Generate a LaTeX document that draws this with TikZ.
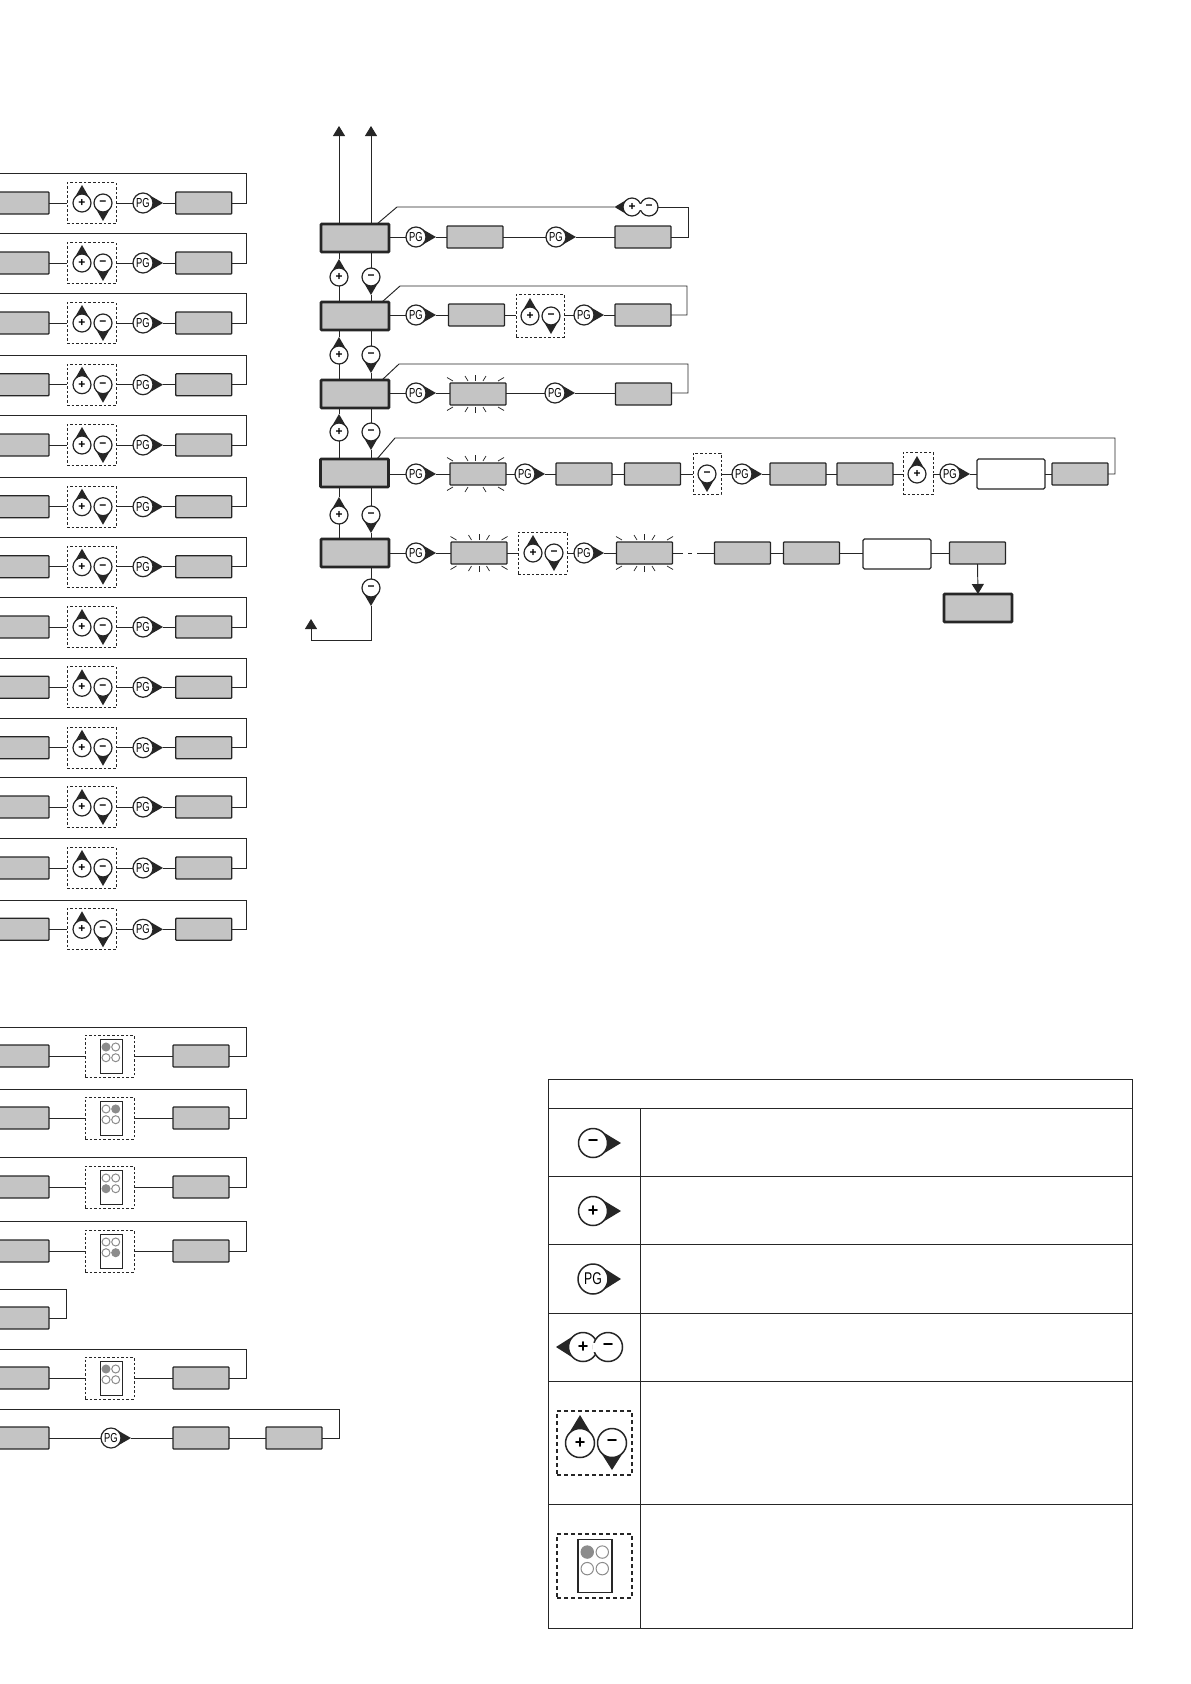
\documentclass[tikz,border=0pt]{standalone}
\usepackage{fontspec}
\setmainfont{Liberation Sans}
\usetikzlibrary{calc,arrows.meta}
\definecolor{ink}{HTML}{262626}
\definecolor{boxg}{HTML}{C4C4C4}
\definecolor{keyg}{HTML}{8C8C8C}
\tikzset{
  conn/.style={draw=ink,line width=0.95pt},
  arr/.style={conn,-{Triangle[width=12pt,length=10pt]}},
  graybox/.style={draw=ink,fill=boxg,line width=1.3pt,rounded corners=0.8pt,inner sep=0pt,outer sep=0pt,minimum width=56pt,minimum height=22pt},
  thickbox/.style={graybox,line width=2.6pt,minimum width=68pt,minimum height=28pt},
  whitebox/.style={draw=ink,fill=white,line width=1.2pt,rounded corners=1.5pt,inner sep=0pt,outer sep=0pt,minimum width=68pt,minimum height=30pt},
  dashbox/.style={draw=ink,line width=1pt,dash pattern=on 2.6pt off 2pt,inner sep=0pt,outer sep=0pt},
  dashboxL/.style={draw=ink,line width=1.3pt,dash pattern=on 4pt off 3pt,inner sep=0pt,outer sep=0pt},
  roundkey/.style={circle,draw=ink,fill=white,line width=1.2pt,inner sep=0pt,outer sep=0pt},
  fontS/.style={font=\fontsize{12}{12}\selectfont\bfseries},
  fontP/.style={font=\fontsize{13}{13}\selectfont},
  fontL/.style={line width=1.5pt,font=\fontsize{18}{18}\selectfont\bfseries},
  fontQ/.style={line width=1.5pt,font=\fontsize{17}{17}\selectfont},
  frame/.style={draw=ink,line width=0.85pt},
}
\newcommand\PGt{\scalebox{.72}[1]{PG}}
% name, x, y, angle, radius, tip distance, style, text
\newcommand\keybtn[8]{%
  \coordinate (#1-t) at ($(#2,#3)+(#4:#6)$);
  \fill[ink] (#1-t) -- ($(#2,#3)+(#4+60:#5)$) -- ($(#2,#3)+(#4-60:#5)$) -- cycle;
  \node[roundkey,#7,minimum size=#5*2pt] (#1) at (#2,#3) {#8};
}
\newcommand\smallkey[5]{\keybtn{#1}{#2}{#3}{#4}{9}{18}{fontS}{#5}}
\newcommand\pgkey[3]{\keybtn{#1}{#2}{#3}{0}{10}{20}{fontP}{\PGt}}
% name, keypad centre x, y, scale, lit key
\newcommand\keypad[5]{%
  \node[draw=ink,fill=white,line width=#4*1pt,inner sep=0pt,outer sep=0pt,minimum width=#4*22pt,minimum height=#4*34pt] (#1) at (#2,#3) {};
  \begin{scope}[shift={(#2,#3)},scale=#4]
    \foreach \kn/\kx/\ky in {1/-5/-9,2/4.7/-9,3/-5/1.7,4/4.7/1.7}{
      \ifnum\kn=#5\relax
        \draw[keyg,fill=keyg,line width=1pt] (\kx,\ky) circle (4);
      \else
        \draw[keyg,fill=white,line width=1pt] (\kx,\ky) circle (4);
      \fi
    }
  \end{scope}
}
% node, ray centre shift, bottom middle ray (1/0)
\newcommand\flash[3]{%
  \begin{scope}[shift={($(#1.center)+(#2,0)$)}]
    \foreach \ra/\rb/\rc/\rd in {-28.5/-16.5/-22.5/-13,-10.5/-18/-7.5/-13,10.5/-18/7.5/-13,28.5/-16.5/22.5/-13}{
      \draw[ink,line width=0.75pt] (\ra,\rb) -- (\rc,\rd);
      \draw[ink,line width=0.75pt] (\ra,-\rb) -- (\rc,-\rd);
    }
    \draw[ink,line width=0.75pt] (0,-19) -- (0,-13);
    \ifnum#3=1\relax \draw[ink,line width=0.75pt] (0,19) -- (0,13); \fi
  \end{scope}
}
\begin{document}
\begin{tikzpicture}[x=1pt,y=-1pt]
\useasboundingbox (0,0) rectangle (1191,1684);
\clip (0,0) rectangle (1191,1684);

%% ---- left column, upper rows
\foreach \i/\yy in {1/203,2/263,3/323,4/384.7,5/445,6/506.7,7/566.7,8/627,9/687.3,10/747.7,11/807,12/868,13/929.3}{
  \node[graybox] (la\i) at (21,\yy) {};
  \node[dashbox,minimum width=49pt,minimum height=41pt] (ld\i) at (91.5,\yy) {};
  \smallkey{lp\i}{82}{\yy}{270}{+}
  \smallkey{lm\i}{103}{\yy}{90}{−}
  \pgkey{lg\i}{143}{\yy}
  \node[graybox] (lb\i) at (203.8,\yy) {};
  \coordinate (lc\i) at (246.7,\yy);
  \coordinate (le\i) at (-2,\yy-29.3);
  \draw[conn] (la\i.east) -- (ld\i.west);
  \draw[conn] (ld\i.east) -- (lg\i.west);
  \draw[conn] (lg\i-t) -- (lb\i.west);
  \draw[conn] (lb\i.east) -- (lc\i) -- (lc\i |- le\i) -- (le\i);
}

%% ---- left column, keypad rows
\foreach \i/\yy/\tp/\lit in {1/1056/1027/1,2/1118/1089/2,3/1187/1157/3,4/1251/1221/4,6/1378/1349/1}{
  \node[graybox] (ka\i) at (21,\yy) {};
  \node[dashbox,minimum width=49pt,minimum height=42pt] (kd\i) at (109.5,\yy) {};
  \keypad{kk\i}{111}{\yy}{1}{\lit}
  \node[graybox] (kb\i) at (201,\yy) {};
  \coordinate (kc\i) at (246,\yy);
  \coordinate (ke\i) at (-2,\tp);
  \draw[conn] (ka\i.east) -- (kd\i.west);
  \draw[conn] (kd\i.east) -- (kb\i.west);
  \draw[conn] (kb\i.east) -- (kc\i) -- (kc\i |- ke\i) -- (ke\i);
}
\node[graybox] (sa) at (21,1318) {};
\coordinate (sc) at (66,1318);
\coordinate (se) at (-2,1289);
\draw[conn] (sa.east) -- (sc) -- (sc |- se) -- (se);

\node[graybox] (wa) at (21,1438) {};
\pgkey{wg}{111}{1438}
\node[graybox] (wb) at (201,1438) {};
\node[graybox] (wc) at (294,1438) {};
\coordinate (wd) at (339,1438);
\coordinate (we) at (-2,1409);
\draw[conn] (wa.east) -- (wg.west);
\draw[conn] (wg-t) -- (wb.west);
\draw[conn] (wb.east) -- (wc.west);
\draw[conn] (wc.east) -- (wd) -- (wd |- we) -- (we);

%% ---- main column: state boxes
\node[thickbox] (t1) at (355,238) {};
\node[thickbox] (t2) at (355,316) {};
\node[thickbox] (t3) at (355,394) {};
\node[thickbox] (t4) at (354.5,473) {};
\node[thickbox] (t5) at (355,553) {};
\node[thickbox] (t6) at (978,608) {};

\coordinate (up1) at (339,126);
\coordinate (up2) at (371,126);
\draw[arr] (up1 |- t1.north) -- (up1);
\draw[arr] (up2 |- t1.north) -- (up2);

\foreach \j/\sa/\sb/\yy in {1/t1/t2/277,2/t2/t3/355,3/t3/t4/432,4/t4/t5/515}{
  \smallkey{vp\j}{339}{\yy}{270}{+}
  \smallkey{vm\j}{371}{\yy}{90}{−}
  \draw[conn] (vp\j.south) -- (vp\j.south |- \sb.north);
  \draw[conn] (vp\j-t) -- (vp\j-t |- \sa.south);
  \draw[conn] (vm\j.north) -- (vm\j.north |- \sa.south);
  \draw[conn] (vm\j-t) -- (vm\j-t |- \sb.north);
}

%% row 1
\pgkey{a1}{416}{237}
\node[graybox] (a2) at (475,237) {};
\pgkey{a3}{556}{237}
\node[graybox] (a4) at (643,237) {};
\keybtn{a5}{632}{207}{180}{9}{17.5}{fontS}{+}
\node[roundkey,fontS,minimum size=18pt] (a6) at (649,207) {−};
\fill[white] (638.5,204) rectangle (642.5,210);
\coordinate (a7) at (397,207);
\coordinate (a8) at (688,207);
\coordinate (a9) at (688,237);
\draw[conn] (t1.east |- a1) -- (a1.west);
\draw[conn] (a1-t) -- (a2.west);
\draw[conn] (a2.east) -- (a3.west);
\draw[conn] (a3-t) -- (a4.west);
\draw[conn] (a4.east) -- (a9) -- (a8) -- (a6.east);
\draw[conn] (a5-t) -- (a7) -- ($(t1.north)+(22,0)$);

%% row 2
\pgkey{b1}{416}{315}
\node[graybox] (b2) at (476.5,315) {};
\node[dashbox,minimum width=48pt,minimum height=43pt] (b3) at (540,315.5) {};
\smallkey{b4}{530}{316}{270}{+}
\smallkey{b5}{551}{316}{90}{−}
\pgkey{b6}{584}{315}
\node[graybox] (b7) at (643,315) {};
\coordinate (b8) at (400,286);
\coordinate (b9) at (687,286);
\coordinate (b10) at (687,315);
\draw[conn] (t2.east |- b1) -- (b1.west);
\draw[conn] (b1-t) -- (b2.west);
\draw[conn] (b2.east) -- (b3.west |- b2);
\draw[conn] (b3.east |- b6) -- (b6.west);
\draw[conn] (b6-t) -- (b7.west);
\draw[conn] (b7.east) -- (b10) -- (b9) -- (b8) -- ($(t2.north)+(27,0)$);

%% row 3
\pgkey{c1}{416}{393}
\node[graybox] (c2) at (478,394) {};
\flash{c2}{-2.5}{1}
\pgkey{c3}{555}{393}
\node[graybox] (c4) at (643.5,394) {};
\coordinate (c5) at (399,364);
\coordinate (c6) at (688,364);
\coordinate (c7) at (688,393);
\draw[conn] (t3.east |- c1) -- (c1.west);
\draw[conn] (c1-t) -- (c2.west |- c1);
\draw[conn] (c2.east |- c3) -- (c3.west);
\draw[conn] (c3-t) -- (c4.west |- c3);
\draw[conn] (c4.east |- c7) -- (c7) -- (c6) -- (c5) -- ($(t3.north)+(27,0)$);

%% row 4
\pgkey{d1}{416}{474}
\node[graybox] (d2) at (478,474) {};
\flash{d2}{-2.5}{0}
\pgkey{d3}{525}{474}
\node[graybox] (d4) at (584,474) {};
\node[graybox] (d5) at (652.5,474) {};
\node[dashbox,minimum width=28pt,minimum height=41pt] (d6) at (707,473.5) {};
\smallkey{d7}{707}{474}{90}{−}
\pgkey{d8}{742}{474}
\node[graybox] (d9) at (798,474) {};
\node[graybox] (d10) at (865,474) {};
\node[dashbox,minimum width=30pt,minimum height=42pt] (d11) at (918,473) {};
\smallkey{d12}{917}{474}{270}{+}
\pgkey{d13}{950}{474}
\node[whitebox] (d14) at (1011,474) {};
\node[graybox] (d15) at (1080,474) {};
\coordinate (d16) at (1115,474);
\coordinate (d17) at (1115,438);
\coordinate (d18) at (395,438);
\draw[conn] (t4.east |- d1) -- (d1.west);
\draw[conn] (d1-t) -- (d2.west);
\draw[conn] (d2.east) -- (d3.west);
\draw[conn] (d3-t) -- (d4.west);
\draw[conn] (d4.east) -- (d5.west);
\draw[conn] (d5.east) -- (d6.west |- d5);
\draw[conn] (d6.east |- d8) -- (d8.west);
\draw[conn] (d8-t) -- (d9.west);
\draw[conn] (d9.east) -- (d10.west);
\draw[conn] (d10.east) -- (d11.west |- d10);
\draw[conn] (d11.east |- d13) -- (d13.west);
\draw[conn] (d13-t) -- (d14.west);
\draw[conn] (d14.east) -- (d15.west);
\draw[conn] (d15.east) -- (d16) -- (d17) -- (d18) -- ($(t4.north)+(22.5,0)$);

%% row 5
\pgkey{e1}{416}{553}
\node[graybox] (e2) at (479,553) {};
\flash{e2}{0}{1}
\node[dashbox,minimum width=49pt,minimum height=42pt] (e3) at (542.5,553) {};
\smallkey{e4}{533}{553}{270}{+}
\smallkey{e5}{554}{553}{90}{−}
\pgkey{e6}{584}{553}
\node[graybox] (e7) at (644.5,553) {};
\flash{e7}{0}{1}
\node[graybox] (e8) at (742.5,553) {};
\node[graybox] (e9) at (811.5,553) {};
\node[whitebox] (e10) at (897,554) {};
\node[graybox] (e11) at (977.5,553) {};
\coordinate (e12) at (683,553);
\coordinate (e13) at (688,553);
\coordinate (e14) at (692,553);
\coordinate (e15) at (697,553);
\draw[conn] (t5.east) -- (e1.west);
\draw[conn] (e1-t) -- (e2.west);
\draw[conn] (e2.east) -- (e3.west);
\draw[conn] (e3.east) -- (e6.west);
\draw[conn] (e6-t) -- (e7.west);
\draw[conn] (e7.east) -- (e12);
\draw[conn] (e13) -- (e14);
\draw[conn] (e15) -- (e8.west);
\draw[conn] (e8.east) -- (e9.west);
\draw[conn] (e9.east) -- (e10.west |- e9);
\draw[conn] (e10.east |- e11) -- (e11.west);
\draw[arr] (e11.south) -- (t6.north);

\smallkey{f1}{371}{588}{90}{−}
\coordinate (f2) at (371,640);
\coordinate (f3) at (311,640);
\coordinate (f4) at (311,619);
\draw[conn] (f1.north) -- (f1.north |- t5.south);
\draw[conn] (f1-t) -- (f2) -- (f3);
\draw[arr] (f3) -- (f4);

%% ---- legend table
\draw[frame] (548,1079) rectangle (1132,1628);
\draw[frame] (548,1108) -- (1132,1108);
\draw[frame] (640,1108) -- (640,1628);
\foreach \yy in {1176,1244,1313,1381,1504}{ \draw[frame] (548,\yy) -- (1132,\yy); }
\keybtn{g1}{593}{1143}{0}{14.5}{28}{fontL}{−}
\keybtn{g2}{593}{1211}{0}{14.5}{28}{fontL}{+}
\keybtn{g3}{593}{1279}{0}{15}{28}{fontQ}{\PGt}
\keybtn{g4}{583}{1347}{180}{14.5}{27}{fontL}{+}
\node[roundkey,fontL,minimum size=29pt] (g5) at (608,1347) {−};
\fill[white] (593,1342.5) rectangle (598,1351.5);
\node[dashboxL,minimum width=75pt,minimum height=64pt] (g6) at (594.5,1443) {};
\keybtn{g7}{580}{1443}{270}{14.5}{28}{fontL}{+}
\keybtn{g8}{612}{1443}{90}{14.5}{27}{fontL}{−}
\node[dashboxL,minimum width=75pt,minimum height=64pt] (g9) at (594.5,1566) {};
\keypad{g10}{595}{1566}{1.55}{1}
\end{tikzpicture}
\end{document}
